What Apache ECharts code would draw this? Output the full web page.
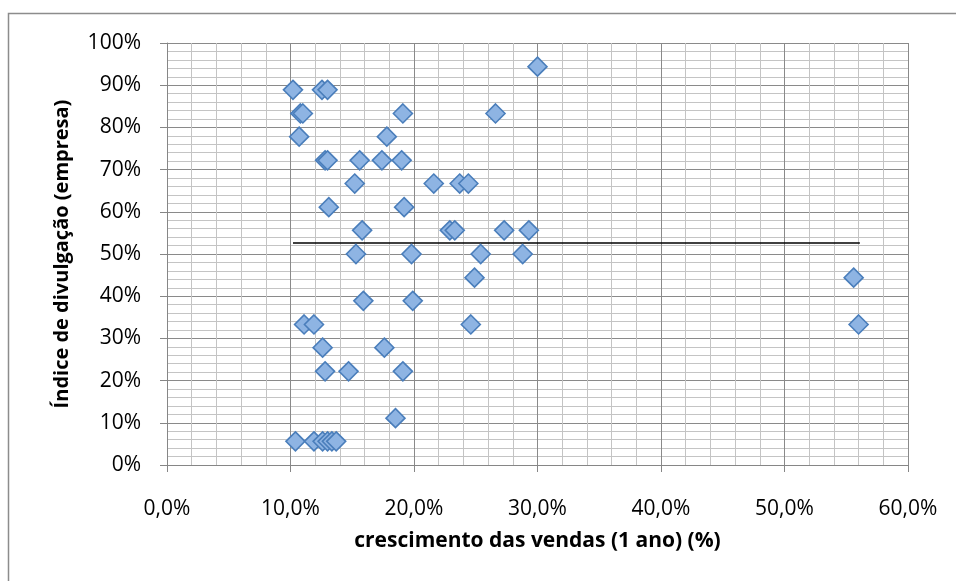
<!DOCTYPE html>
<html><head><meta charset="utf-8">
<script src="https://cdn.jsdelivr.net/npm/echarts@6/dist/echarts.min.js"></script>
<style>html,body{margin:0;padding:0;background:#fff}#c{width:956px;height:581px}</style>
</head><body><div id="c"></div>
<script>
// crescimento das vendas (x, %) and índice de divulgação (y, %)
const salesGrowth = [30.0, 10.2,12.55,13.0, 10.8,11.0,19.1,26.6, 10.7,17.8, 12.8,13.0,15.6,17.4,19.0,
  15.2,21.6,23.7,24.4, 13.1,19.2, 15.8,22.9,23.3,27.3,29.3, 15.3,19.8,25.4,28.8, 24.9,55.6,
  15.9,19.9, 11.1,11.9,24.6,56.0, 12.6,17.6, 12.8,14.7,19.1, 18.5, 10.4,11.9,12.6,13.0,13.35,13.7];
const disclosureIndex = [94.4, 88.9,88.9,88.9, 83.3,83.3,83.3,83.3, 77.8,77.8, 72.2,72.2,72.2,72.2,72.2,
  66.7,66.7,66.7,66.7, 61.1,61.1, 55.6,55.6,55.6,55.6,55.6, 50.0,50.0,50.0,50.0, 44.4,44.4,
  38.9,38.9, 33.3,33.3,33.3,33.3, 27.8,27.8, 22.2,22.2,22.2, 11.1, 5.6,5.6,5.6,5.6,5.6,5.6];
const meanLineX = [10.2, 56.1];
const meanLineY = [52.6, 52.6];
const xTicks = {min: 0, max: 60, interval: 10};
const yTicks = {min: 0, max: 100, interval: 10};

const pts = salesGrowth.map((x, i) => [x, disclosureIndex[i]]);
const meanPts = meanLineX.map((x, i) => [x, meanLineY[i]]);
const FONT = 'Open Sans';
const chart = echarts.init(document.getElementById('c'), null, {renderer: 'canvas'});
chart.setOption({
  animation: false,
  backgroundColor: '#fff',
  graphic: [{type: 'rect', shape: {x: 8.5, y: 13.5, width: 1000, height: 1000},
    style: {fill: 'none', stroke: '#8c8c8c', lineWidth: 1.5}, silent: true}],
  grid: {left: 167, right: 48, top: 43, bottom: 116},
  xAxis: {
    type: 'value', min: xTicks.min, max: xTicks.max, interval: xTicks.interval,
    name: 'crescimento das vendas (1 ano) (%)', nameLocation: 'middle', nameGap: 66,
    nameTextStyle: {fontFamily: FONT, fontWeight: 'bold', fontSize: 21, color: '#000'},
    axisLine: {show: true, lineStyle: {color: '#868686', width: 1}},
    axisTick: {show: true, length: 7, lineStyle: {color: '#868686'}},
    axisLabel: {fontFamily: FONT, fontSize: 21, color: '#000', margin: 34,
      formatter: v => v.toFixed(1).replace('.', ',') + '%'},
    splitLine: {show: true, lineStyle: {color: '#8a8a8a', width: 1}},
    minorTick: {show: false, splitNumber: 5},
    minorSplitLine: {show: true, lineStyle: {color: '#c4c4c4', width: 1}}
  },
  yAxis: {
    type: 'value', min: yTicks.min, max: yTicks.max, interval: yTicks.interval,
    name: 'Índice de divulgação (empresa)', nameLocation: 'middle', nameGap: 95, nameRotate: 90,
    nameTextStyle: {fontFamily: FONT, fontWeight: 'bold', fontSize: 20, color: '#000'},
    axisLine: {show: true, lineStyle: {color: '#868686', width: 1}},
    axisTick: {show: true, length: 7, lineStyle: {color: '#868686'}},
    axisLabel: {fontFamily: FONT, fontSize: 21, color: '#000', margin: 26,
      formatter: v => Math.round(v) + '%'},
    splitLine: {show: true, lineStyle: {color: '#8a8a8a', width: 1}},
    minorTick: {show: false, splitNumber: 5},
    minorSplitLine: {show: true, lineStyle: {color: '#c4c4c4', width: 1}}
  },
  series: [
    {type: 'line', data: meanPts, symbol: 'none', lineStyle: {color: '#000', width: 1.5}, z: 3, silent: true},
    {type: 'scatter', data: pts, symbol: 'diamond', symbolSize: 19, z: 4,
      itemStyle: {color: '#8eb4e3', borderColor: '#4a7ebb', borderWidth: 1.6, opacity: 1}}
  ]
});
</script></body></html>
